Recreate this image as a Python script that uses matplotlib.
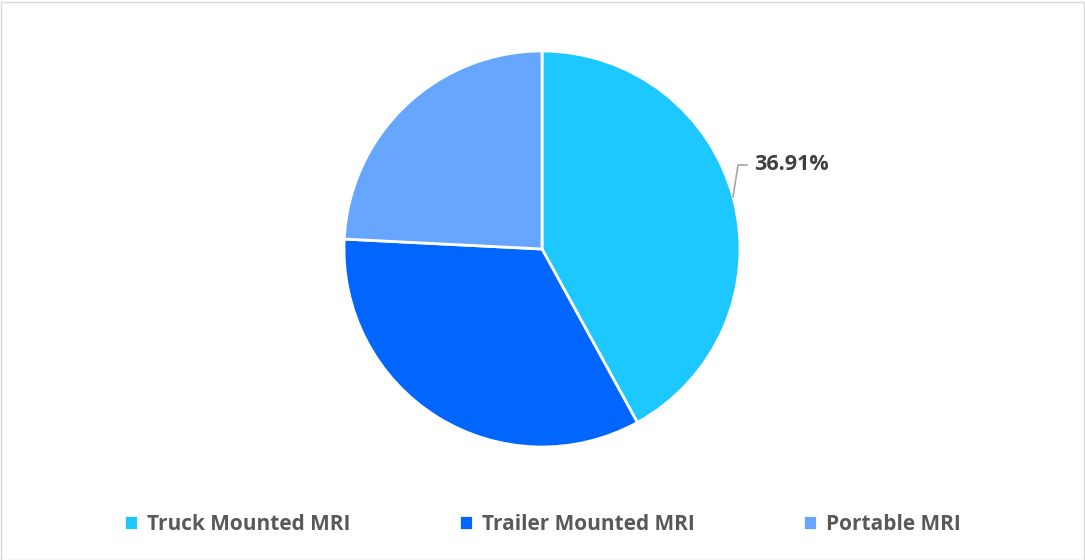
import matplotlib.pyplot as plt
from matplotlib.patches import Rectangle

# slice shares as drawn (the chart's own label reads 36.91%)
categories = ["Truck Mounted MRI", "Trailer Mounted MRI", "Portable MRI"]
shares = [42.0, 33.8, 24.2]
label_text = "36.91%"
colors = ["#1CC8FF", "#0066FF", "#66A6FF"]

plt.rcParams['font.family'] = ['Open Sans', 'DejaVu Sans']

fig = plt.figure(figsize=(10.85, 5.6), dpi=100)
ax = fig.add_axes([0, 0, 1, 1])
ax.axis('off')

wedges, _ = ax.pie(shares, colors=colors, startangle=90, counterclock=False,
                   center=(542, 311), radius=198,
                   wedgeprops=dict(edgecolor='white', linewidth=2))
ax.set_xlim(0, 1085)
ax.set_ylim(0, 560)
ax.set_aspect('equal')

# leader line and data label
ax.plot([733, 738, 747], [560 - 197, 560 - 165, 560 - 165], color='#A6A6A6', lw=1.2)
ax.text(754, 560 - 165, label_text, fontsize=15.5, fontweight='bold',
        color='#404040', va='center', ha='left')

leg = ax.legend(wedges, categories, loc='center', bbox_to_anchor=(0.5, 36 / 560),
                bbox_transform=fig.transFigure, ncol=3, frameon=False,
                handlelength=0.65, handleheight=0.7, handletextpad=0.45,
                columnspacing=5.2, prop=dict(size=15, weight='bold'))
for t in leg.get_texts():
    t.set_color('#595959')

fig.patches.append(Rectangle((0.5, 0.5), 1083, 558, transform=None, fill=False,
                             edgecolor='#D9D9D9', lw=1))

fig.savefig('out.png', dpi=100)
